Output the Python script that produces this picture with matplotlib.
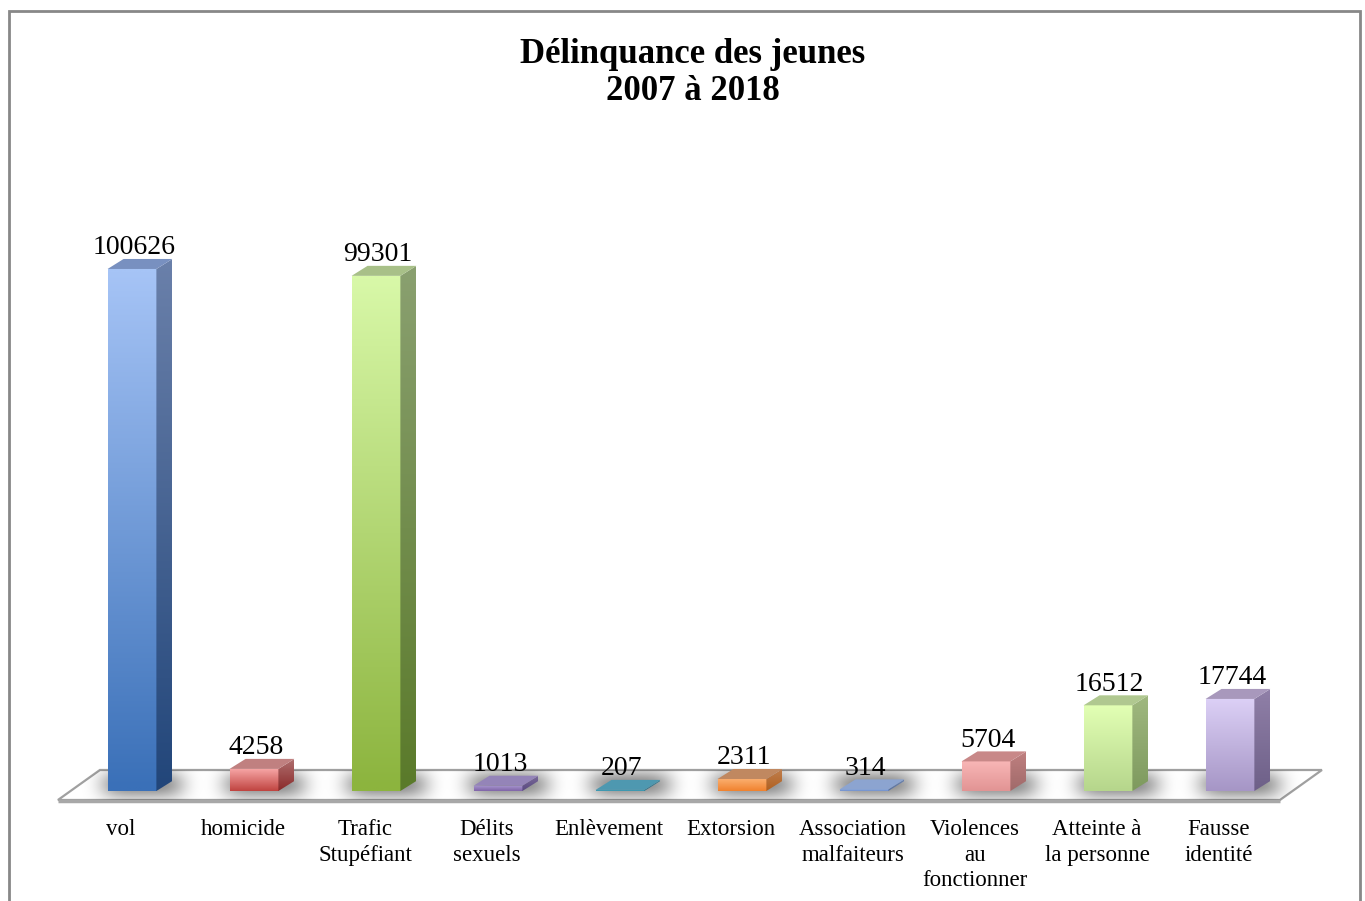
import matplotlib
matplotlib.use('Agg')
import matplotlib.pyplot as plt
import numpy as np
from matplotlib.colors import to_rgb
from matplotlib.patches import Polygon, Rectangle

categories = ['vol', 'homicide', 'Trafic\nStupéfiant', 'Délits\nsexuels', 'Enlèvement',
              'Extorsion', 'Association\nmalfaiteurs', 'Violences\nau\nfonctionner',
              'Atteinte à\nla personne', 'Fausse\nidentité']
values = [100626, 4258, 99301, 1013, 207, 2311, 314, 5704, 16512, 17744]

# face colours: front top, front bottom, side top, side bottom, top face
front_top = ['#a6c4f6', '#f8a8a8', '#d8f8a8', '#a898d0', '#4aa4bc', '#fbae6e', '#8aa8dc', '#f8b6b6', '#e2ffb4', '#dcd0f6']
front_bot = ['#3a70b8', '#c04440', '#8cb43e', '#8064a8', '#3a94ac', '#f0822e', '#7290cc', '#e29494', '#b6d68c', '#a696c6']
side_top = ['#6a80aa', '#b07070', '#8aa070', '#7a6a9a', '#3a8098', '#c08050', '#6a82b0', '#c08080', '#a0b880', '#9080a8']
side_bot = ['#22467a', '#8a2a2a', '#5a7a2a', '#5a4a80', '#2a7088', '#b06020', '#5a72a0', '#a06a6a', '#7e9a5e', '#6e6088']
top_col = ['#7890c0', '#c08080', '#a8c088', '#9484b8', '#4e98b0', '#c08860', '#8ca4d0', '#c88888', '#b0c890', '#a898bc']

FONT = 'Liberation Serif'
BAR_W = 0.40
DX, DY = 0.131, 1930.0


def gradient(ax, clip, x0, x1, y0, y1, c_bot, c_top):
    a = np.array(to_rgb(c_bot))
    b = np.array(to_rgb(c_top))
    t = np.linspace(0, 1, 64)[:, None, None]
    img = a * (1 - t) + b * t
    im = ax.imshow(img, extent=[x0, x1, y0, y1], origin='lower', aspect='auto',
                   interpolation='bilinear', zorder=clip.get_zorder())
    im.set_clip_path(clip)


fig = plt.figure(figsize=(13.65, 9.01), dpi=100)
ax = fig.add_axes([40 / 1365, 96 / 901, 1300 / 1365, 705 / 901])
ax.set_xlim(-0.754, 9.902)
ax.set_ylim(-2700, 133200)

x = np.arange(len(values))

# floor
fx0, fx1 = x[0] - 0.607, x[-1] + 0.41
fy0 = -1735
fdx, fdy = 0.344, 5783
floor = Polygon([(fx0, fy0), (fx1, fy0), (fx1 + fdx, fy0 + fdy), (fx0 + fdx, fy0 + fdy)],
                closed=True, facecolor='white', edgecolor='#a0a0a0', lw=1.6, zorder=1)
ax.add_patch(floor)
ax.plot([fx0, fx1], [fy0 - 250, fy0 - 250], color='#a8a8a8', lw=2.5, zorder=1,
        solid_capstyle='butt')

# soft shadows on the floor, one blob behind each bar
gx = np.linspace(fx0, fx1 + fdx, 900)
gy = np.linspace(fy0, fy0 + fdy, 60)
GX, GY = np.meshgrid(gx, gy)
dark = np.zeros_like(GX)
for i in x:
    cx = i + 0.08
    dark += np.exp(-((GX - cx) / 0.34) ** 4) * np.exp(-((GY - DY * 0.6) / 2800.0) ** 2)
dark = np.clip(dark, 0, 1) * 0.45
shadow = np.zeros(GX.shape + (4,))
shadow[..., 3] = dark
sh = ax.imshow(shadow, extent=[gx[0], gx[-1], gy[0], gy[-1]], origin='lower', aspect='auto',
               interpolation='bilinear', zorder=1.5)
sh.set_clip_path(floor)

bars = ax.bar(x, values, width=BAR_W, color='none', edgecolor='none', zorder=3)
for i, (b, v) in enumerate(zip(bars, values)):
    xl = i - BAR_W / 2
    xr = i + BAR_W / 2
    gradient(ax, b, xl, xr, 0, max(v, 1), front_bot[i], front_top[i])
    side = Polygon([(xr, 0), (xr + DX, DY), (xr + DX, v + DY), (xr, v)], closed=True,
                   facecolor='none', edgecolor='none', zorder=3)
    ax.add_patch(side)
    gradient(ax, side, xr, xr + DX, 0, v + DY, side_bot[i], side_top[i])
    top = Polygon([(xl, v), (xr, v), (xr + DX, v + DY), (xl + DX, v + DY)], closed=True,
                  facecolor=top_col[i], edgecolor='none', zorder=3.5)
    ax.add_patch(top)
    ax.text(i + 0.015, v + DY - 250, str(v), ha='center', va='bottom',
            fontsize=20, family=FONT, color='black', zorder=5)

ax.set_xticks(x - 0.09)
ax.set_xticklabels(categories, fontsize=16.5, family=FONT, linespacing=1.3)
ax.tick_params(axis='x', length=0, pad=10)
ax.set_yticks([])
for s in ax.spines.values():
    s.set_visible(False)
ax.patch.set_alpha(0)

fig.text(693 / 1365, 1 - 38 / 901, 'Délinquance des jeunes\n2007 à 2018', ha='center', va='top',
         fontsize=25, fontweight='bold', family=FONT, linespacing=1.18)

fig.add_artist(Rectangle((9 / 1365, -0.05), (1360 - 9) / 1365, 1.05 - 11 / 901,
                         transform=fig.transFigure, fill=False, edgecolor='#888888', lw=2))

fig.savefig('out.png', dpi=100)
